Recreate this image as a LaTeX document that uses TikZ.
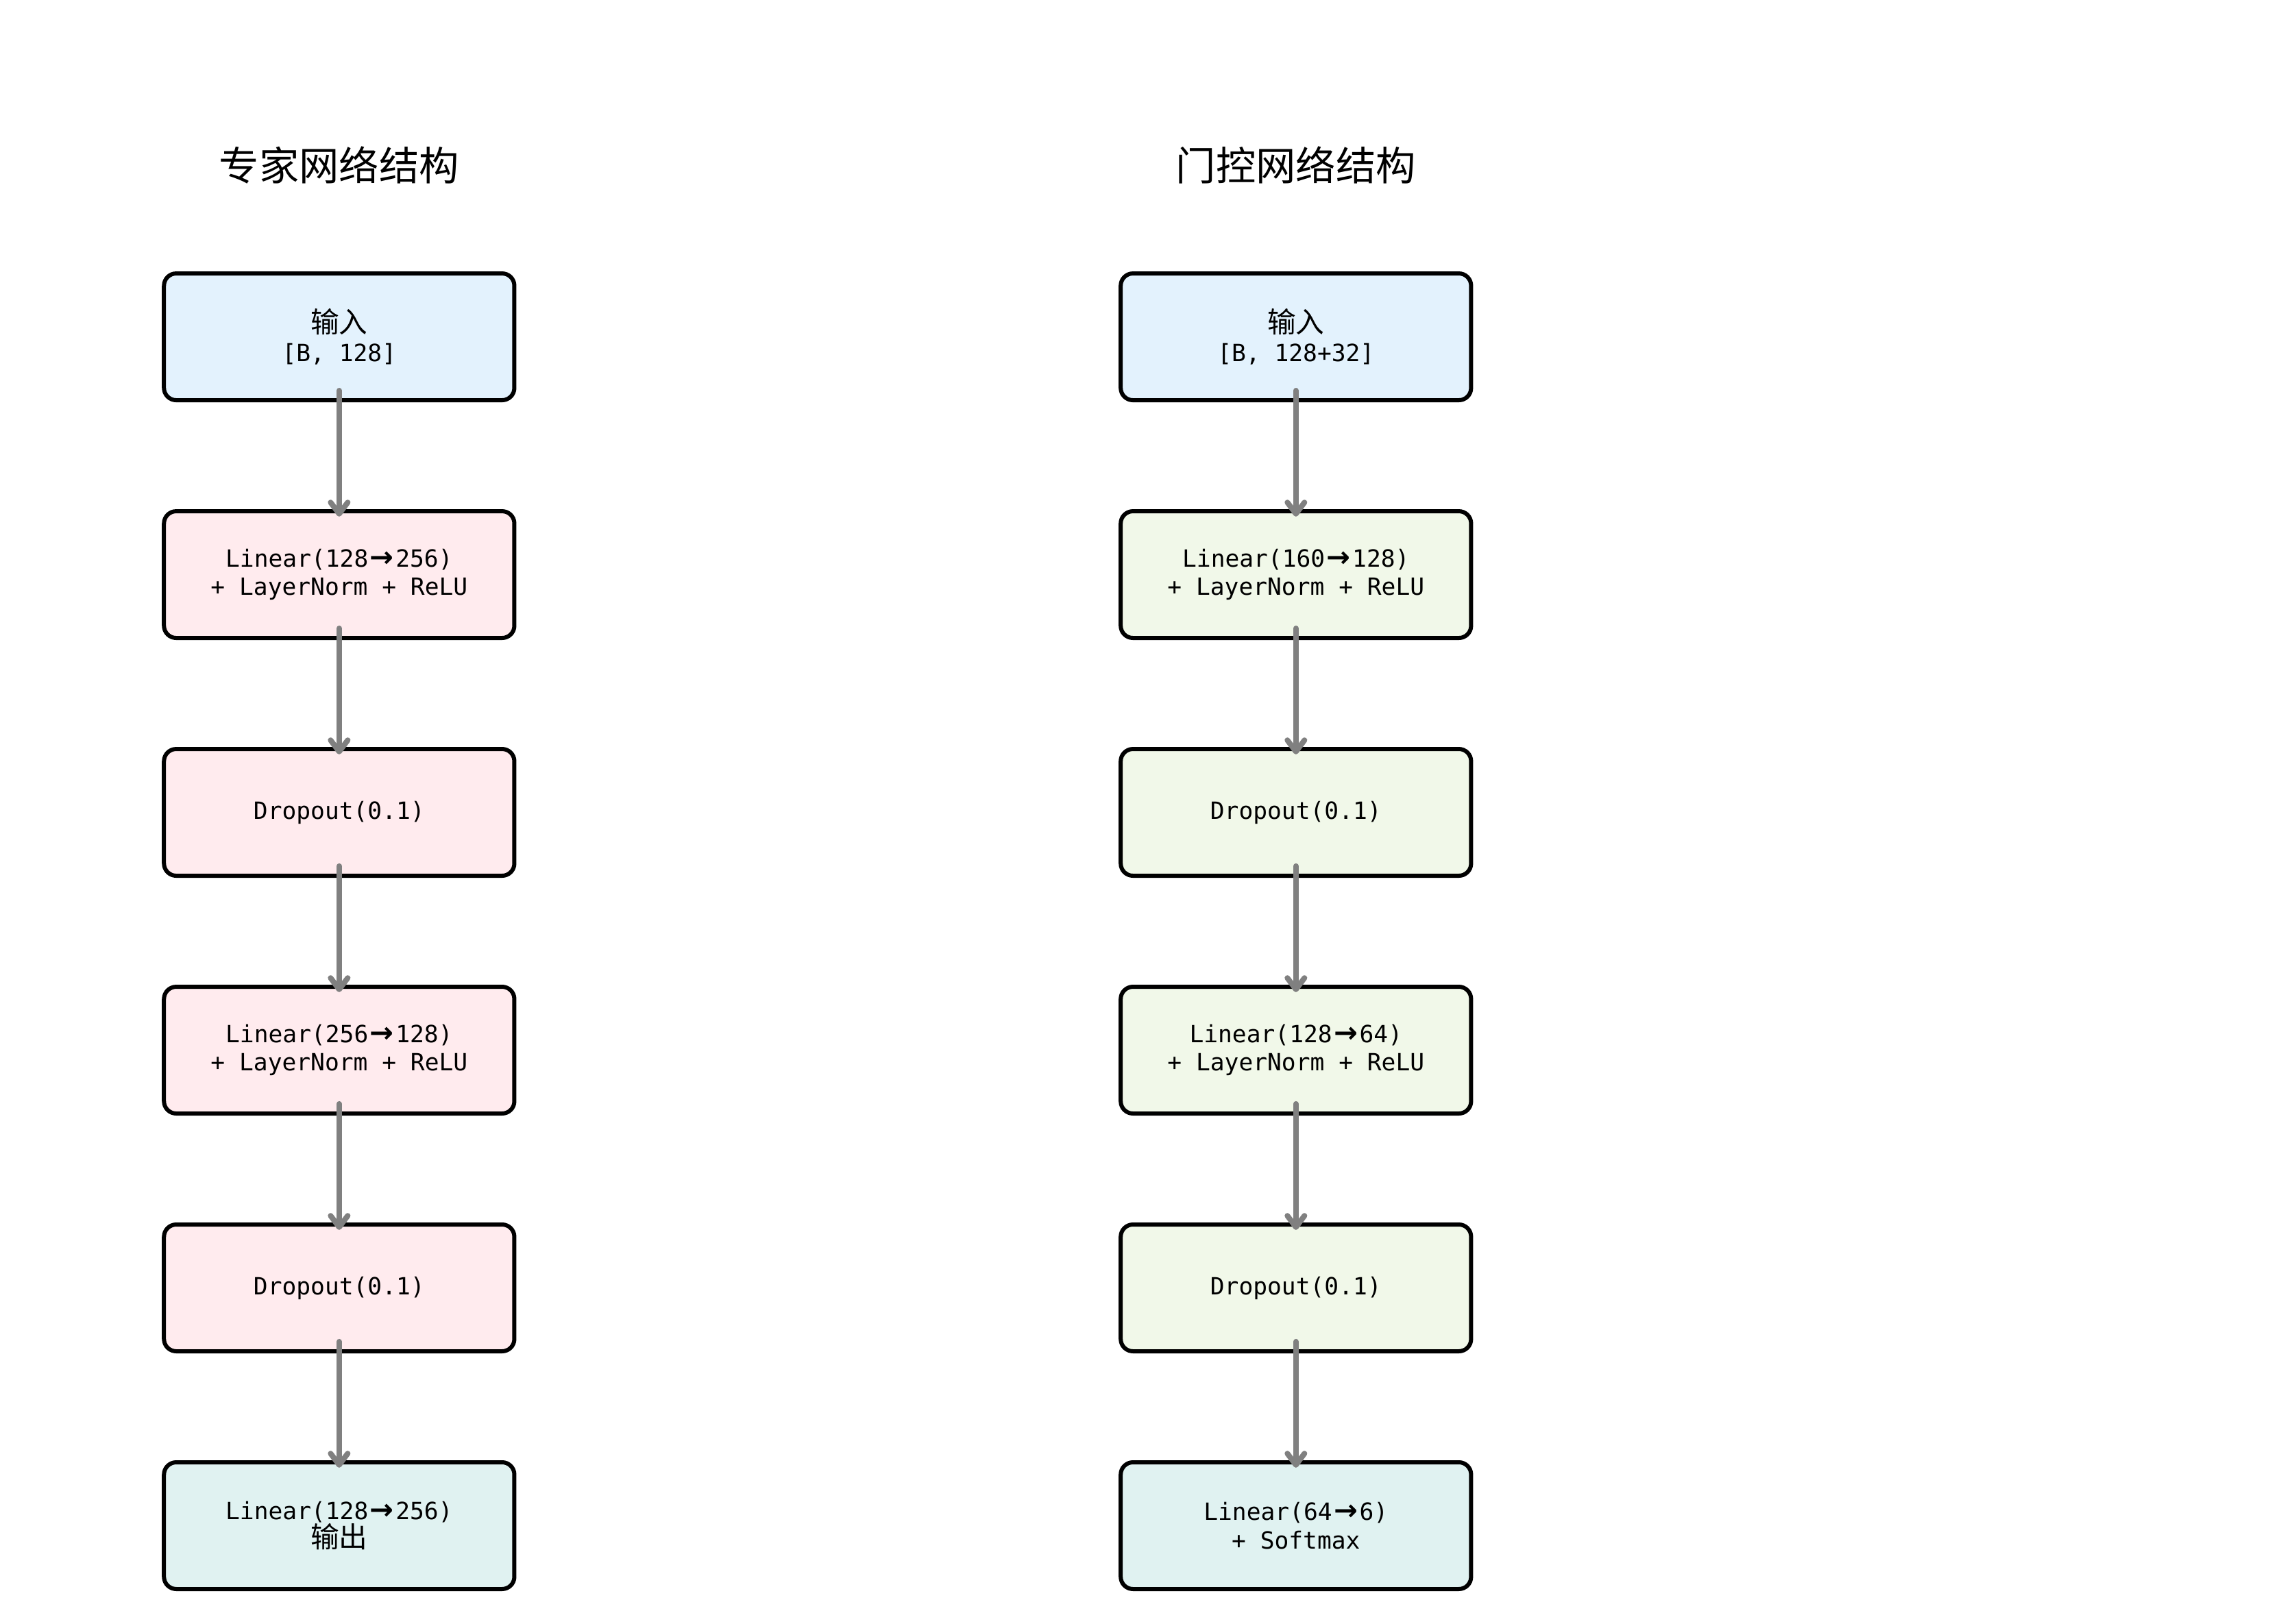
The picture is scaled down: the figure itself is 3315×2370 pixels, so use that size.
\documentclass[tikz,border=0pt]{standalone}
\usepackage{fontspec}
\setmainfont{DejaVu Sans Mono}
\newfontfamily\cjk{Noto Sans CJK SC}
\newfontfamily\arrowfont{DejaVu Sans}
\usepackage{tikz}
\usetikzlibrary{matrix,arrows.meta,positioning}
\definecolor{inblue}{HTML}{E3F2FD}
\definecolor{exppink}{HTML}{FFEBEE}
\definecolor{gategreen}{HTML}{F1F8E9}
\definecolor{outteal}{HTML}{E0F2F1}
\newcommand{\zh}[1]{{\cjk\fontsize{10}{10}\selectfont #1}}
\newcommand{\ra}{\hspace{0.6pt}{\arrowfont\bfseries\fontsize{10}{10}\selectfont →}\hspace{0.6pt}}

\begin{document}
\begin{tikzpicture}[x=0.24pt,y=-0.24pt,
		netbox/.style={draw=black, line width=1.44pt, rounded corners=4.3pt, minimum width=122.7pt, minimum height=44.4pt, inner sep=0pt, align=center, anchor=center, font=\fontsize{8.3}{10}\selectfont},
		inbox/.style={netbox, fill=inblue},
		expbox/.style={netbox, fill=exppink},
		gatebox/.style={netbox, fill=gategreen},
		outbox/.style={netbox, fill=outteal},
		title/.style={font=\cjk\fontsize{14}{14}\selectfont, inner sep=0pt},
		flow/.style={-{Straight Barb[length=4pt,width=6pt,round]}, draw=gray, line width=1.92pt, line cap=round, shorten <=-4.1pt, shorten >=-2.6pt}]
			\path[use as bounding box, fill=white] (0,0) rectangle (3315,2370);
			\matrix (net) [row sep={83.28pt,between origins}, column sep={335.04pt,between origins}] at (1192.85,1359)
			{
				\node[inbox] (e-1) {\zh{输入}\\{[B, 128]}}; & \node[inbox] (g-1) {\zh{输入}\\{[B, 128+32]}}; \\
				\node[expbox] (e-2) {Linear(128\ra256)\\+ LayerNorm + ReLU}; & \node[gatebox] (g-2) {Linear(160\ra128)\\+ LayerNorm + ReLU}; \\
				\node[expbox] (e-3) {Dropout(0.1)}; & \node[gatebox] (g-3) {Dropout(0.1)}; \\
				\node[expbox] (e-4) {Linear(256\ra128)\\+ LayerNorm + ReLU}; & \node[gatebox] (g-4) {Linear(128\ra64)\\+ LayerNorm + ReLU}; \\
				\node[expbox] (e-5) {Dropout(0.1)}; & \node[gatebox] (g-5) {Dropout(0.1)}; \\
				\node[outbox] (e-6) {Linear(128\ra256)\\\zh{输出}}; & \node[outbox] (g-6) {Linear(64\ra6)\\+ Softmax}; \\
			};
			\coordinate (toprow) at (0,241);
			\node[title] (t-e) at (e-1 |- toprow) {专家网络结构};
			\node[title] (t-g) at (g-1 |- toprow) {门控网络结构};
			\path[flow]
			(e-1) edge (e-2)
			(e-2) edge (e-3)
			(e-3) edge (e-4)
			(e-4) edge (e-5)
			(e-5) edge (e-6)
			(g-1) edge (g-2)
			(g-2) edge (g-3)
			(g-3) edge (g-4)
			(g-4) edge (g-5)
			(g-5) edge (g-6);
		\end{tikzpicture}
\end{document}
